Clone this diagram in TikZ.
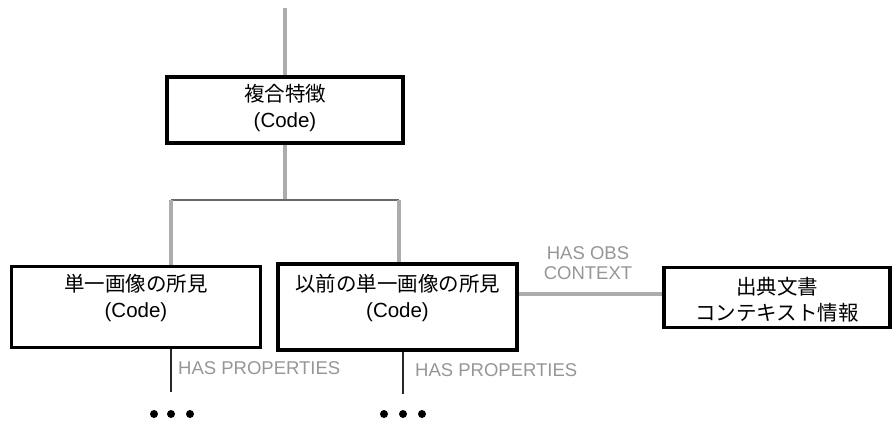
\documentclass[tikz,border=0pt]{standalone}
\usepackage{fontspec}
\setmainfont{Liberation Sans}
\newfontfamily\jp{Noto Sans CJK JP}
\definecolor{connc}{RGB}{172,172,172}
\definecolor{darkc}{RGB}{105,105,105}
\definecolor{labc}{RGB}{150,150,150}
\begin{document}
\begin{tikzpicture}[x=1pt,y=-1pt,
  box/.style={draw=black,line width=3.4pt,inner sep=0pt},
  thickbox/.style={box,line width=4pt},
  txt/.style={align=center,inner sep=0pt,font=\fontsize{20.5}{26}\selectfont},
  conn/.style={draw=connc,line width=3.4pt},
  hconn/.style={draw=darkc,line width=2.8pt},
  pconn/.style={draw=black!85,line width=2.6pt},
  lab/.style={text=labc,inner sep=0pt,font=\fontsize{18.5}{20.5}\selectfont},
  dot/.style={fill=black,draw=none}]
\useasboundingbox (0,0) rectangle (893,425);
% boxes
\node[thickbox, minimum width=236pt, minimum height=66pt] (cf) at (285,110) {};
\node[txt] (cft) at (285,108.5) {{\jp 複合特徴}\\(Code)};
\node[box, minimum width=248.5pt, minimum height=80.5pt] (b2) at (136,307) {};
\node[txt] (b2t) at (136,297.5) {{\jp 単一画像の所見}\\(Code)};
\node[thickbox, minimum width=239pt, minimum height=86pt] (b3) at (397.5,307) {};
\node[txt] (b3t) at (397.5,297.5) {{\jp 以前の単一画像の所見}\\(Code)};
\node[box, minimum width=226pt, minimum height=60pt] (b4) at (777,297.5) {};
\node[txt] (b4t) at (777,300) {{\jp 出典文書}\\{\jp コンテキスト情報}};
% coordinates
\coordinate (top) at (285,8);
\coordinate (j) at (285,200);
\coordinate (hl) at (171,200);
\coordinate (hr) at (399,200);
\coordinate (c1) at (590,294);
\coordinate (p2) at (171,392);
\coordinate (p3) at (403,394);
% connectors
\draw[conn] (top) -- (top |- cf.north);
\draw[conn] (cf.south) -- (j);
\draw[hconn] (hl) -- (hr);
\draw[conn] (hl) -- (hl |- b2.north);
\draw[conn] (hr) -- (hr |- b3.north);
\draw[conn] (c1 -| b3.east) -- (c1 -| b4.west);
\draw[pconn] (p2 |- b2.south) -- (p2);
\draw[pconn] (p3 |- b3.south) -- (p3);
% labels
\node[lab,align=center] (obs) at (588,263) {HAS OBS\\CONTEXT};
\node[lab,anchor=west] (hp2) at (178,368) {HAS PROPERTIES};
\node[lab,anchor=west] (hp3) at (415,370) {HAS PROPERTIES};
% dots
\foreach \x in {154,171,190} \fill[dot] (\x,414) circle (4pt);
\foreach \x in {384,403,422} \fill[dot] (\x,414) circle (4pt);
\end{tikzpicture}
\end{document}
